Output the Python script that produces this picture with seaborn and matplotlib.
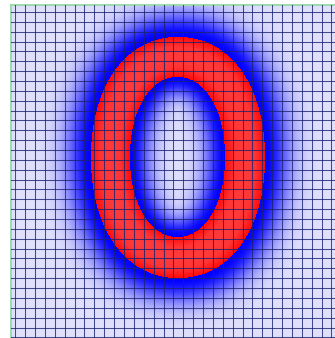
import numpy as np
import matplotlib
matplotlib.use("Agg")
import matplotlib.pyplot as plt
from matplotlib.colors import LinearSegmentedColormap
import seaborn as sns

# Ring geometry (pixel units of the canvas)
OUTER_CENTER = (178.5, 157.5)
OUTER_SEMI_AXES = (87.0, 120.5)
OUTER_EXPONENT = 2.15
INNER_CENTER = (178.0, 157.0)
INNER_SEMI_AXES = (47.5, 80.0)
INNER_EXPONENT = 2.1
OUTER_GLOW_WIDTH = 26.0
INNER_GLOW_WIDTH = 21.0
BAND_HALF_WIDTH = 20.0

# Colour stops: glow (background -> blue), then the red ring
COLOR_STOPS = [0.0, 0.4999, 0.5, 0.75, 1.0]
COLOR_VALUES = ["#e0e0fc", "#0000ff", "#ff0a0a", "#ff3434", "#ff3a3a"]

# Overlay grid
GRID_X_START, GRID_X_STEP, GRID_X_COUNT = 15.3, 9.88, 33
GRID_Y_START, GRID_Y_STEP, GRID_Y_COUNT = 12.0, 9.86, 34

W, H = 335, 338
AX_LEFT, AX_TOP, AX_RIGHT, AX_BOTTOM = 10.5, 5.0, 346.5, 339.0
NCOLS = int(AX_RIGHT - AX_LEFT)
NROWS = int(AX_BOTTOM - AX_TOP)


def superellipse(center, semi, p, n=900):
    th = np.linspace(0, 2 * np.pi, n, endpoint=False)
    c, s = np.cos(th), np.sin(th)
    x = center[0] + semi[0] * np.sign(c) * np.abs(c) ** (2 / p)
    y = center[1] + semi[1] * np.sign(s) * np.abs(s) ** (2 / p)
    return x, y


def inside(px, py, center, semi, p):
    return (np.abs(px - center[0]) / semi[0]) ** p + (np.abs(py - center[1]) / semi[1]) ** p < 1


def min_dist(px, py, cx, cy):
    out = np.empty(px.shape, dtype=float)
    for r in range(px.shape[0]):
        dx = px[r][:, None] - cx[None, :]
        dy = py[r][:, None] - cy[None, :]
        out[r] = np.sqrt((dx * dx + dy * dy).min(axis=1))
    return out


px, py = np.meshgrid(AX_LEFT + np.arange(NCOLS) + 0.5, AX_TOP + np.arange(NROWS) + 0.5)
ox, oy = superellipse(OUTER_CENTER, OUTER_SEMI_AXES, OUTER_EXPONENT)
ix, iy = superellipse(INNER_CENTER, INNER_SEMI_AXES, INNER_EXPONENT)
d_out = min_dist(px, py, ox, oy)
d_in = min_dist(px, py, ix, iy)
in_outer = inside(px, py, OUTER_CENTER, OUTER_SEMI_AXES, OUTER_EXPONENT)
in_inner = inside(px, py, INNER_CENTER, INNER_SEMI_AXES, INNER_EXPONENT)
band = in_outer & ~in_inner

field = np.where(in_inner, 0.999 * np.exp(-(d_in / INNER_GLOW_WIDTH) ** 2),
                 0.999 * np.exp(-(d_out / OUTER_GLOW_WIDTH) ** 2))
field = np.where(band, 1 + np.clip(np.minimum(d_out, d_in) / BAND_HALF_WIDTH, 0, 1), field)

cmap = LinearSegmentedColormap.from_list("ring", list(zip(COLOR_STOPS, COLOR_VALUES)), N=2048)

fig = plt.figure(figsize=(W / 100, H / 100), dpi=100)
ax = fig.add_axes([AX_LEFT / W, 1 - AX_BOTTOM / H,
                   (AX_RIGHT - AX_LEFT) / W, (AX_BOTTOM - AX_TOP) / H])
sns.heatmap(field, ax=ax, cmap=cmap, vmin=0, vmax=2, cbar=False,
            xticklabels=False, yticklabels=False, rasterized=True)

ax.set_xticks(GRID_X_START - AX_LEFT + GRID_X_STEP * np.arange(GRID_X_COUNT))
ax.set_yticks(GRID_Y_START - AX_TOP + GRID_Y_STEP * np.arange(GRID_Y_COUNT))
ax.tick_params(length=0, labelbottom=False, labelleft=False)
ax.set_axisbelow(False)
ax.grid(True, color="#1a2270", alpha=0.8, linewidth=0.75)

for name, sp in ax.spines.items():
    sp.set_visible(True)
    sp.set_color("#9ed9b0")
    sp.set_linewidth(1.5)

fig.savefig("out.png", dpi=100)
